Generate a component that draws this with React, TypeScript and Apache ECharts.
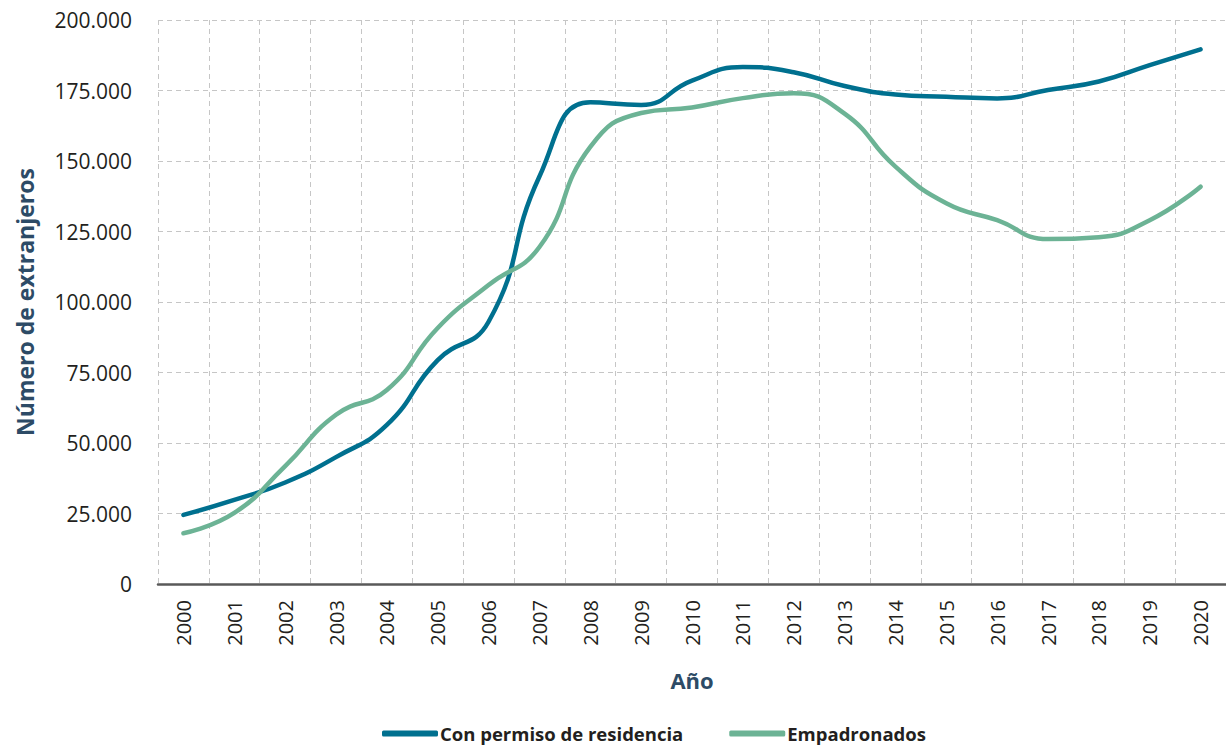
import React, { useEffect, useRef } from "react";
import * as echarts from "echarts";

const years = ["2000","2001","2002","2003","2004","2005","2006","2007","2008","2009","2010","2011","2012","2013","2014","2015","2016","2017","2018","2019","2020"];
const conPermiso = [24500, 29800, 36000, 45000, 56400, 79400, 93000, 144500, 170800, 169900, 178500, 183300, 181500, 176600, 173600, 172800, 172200, 175200, 178200, 184000, 189600];
const empadronados = [18000, 25200, 41800, 60000, 68800, 90800, 106000, 119500, 155000, 167000, 169000, 172300, 174000, 166800, 148000, 135000, 129000, 122300, 123000, 129000, 140900];
const seriesNames = ["Con permiso de residencia", "Empadronados"];
const yTicks = { min: 0, max: 200000, interval: 25000 };

const FONT = "Open Sans";
const TITLE_COLOR = "#2d4b66";
const TEXT_COLOR = "#231f20";

function fmt(v: number): string {
  return String(v).replace(/\B(?=(\d{3})+(?!\d))/g, ".");
}

export default function App() {
  const ref = useRef<HTMLDivElement>(null);
  useEffect(() => {
    if (!ref.current) return;
    const chart = echarts.init(ref.current, undefined, { renderer: "svg" });
    chart.setOption({
      animation: false,
      backgroundColor: "#ffffff",
      textStyle: { fontFamily: FONT },
      grid: { left: 158, top: 20, width: 1070, height: 564, containLabel: false },
      legend: {
        bottom: 4,
        left: 377,
        icon: "roundRect",
        itemWidth: 56,
        itemHeight: 6,
        itemGap: 46,
        textStyle: { fontFamily: FONT, fontSize: 18.5, fontWeight: "bold", color: TEXT_COLOR, padding: [0, 0, 0, -3] },
        data: seriesNames,
      },
      xAxis: {
        type: "category",
        data: years,
        boundaryGap: true,
        name: "Año",
        nameLocation: "middle",
        nameGap: 85,
        nameTextStyle: { fontFamily: FONT, fontSize: 22, fontWeight: "bold", color: TITLE_COLOR },
        axisLine: { show: true, lineStyle: { color: "#595959", width: 2.5 } },
        axisTick: { show: false },
        axisLabel: { rotate: 90, margin: 16, fontFamily: FONT, fontSize: 20, color: TEXT_COLOR, interval: 0 },
        splitLine: { show: true, interval: 0, lineStyle: { color: "#c6c6c6", width: 1, type: [5, 4] } },
      },
      yAxis: {
        type: "value",
        min: yTicks.min,
        max: yTicks.max,
        interval: yTicks.interval,
        name: "Número de extranjeros",
        nameLocation: "middle",
        nameGap: 122,
        nameTextStyle: { fontFamily: FONT, fontSize: 23, fontWeight: "bold", color: TITLE_COLOR },
        axisLine: { show: false },
        axisTick: { show: false },
        axisLabel: { margin: 26, fontFamily: FONT, fontSize: 21, color: TEXT_COLOR, formatter: (v: number) => fmt(v) },
        splitLine: { show: true, lineStyle: { color: "#c6c6c6", width: 1, type: [5, 4] } },
      },
      series: [
        {
          name: seriesNames[0],
          type: "line",
          data: conPermiso,
          smooth: 0.5,
          symbol: "none",
          lineStyle: { color: "#00708f", width: 4.5, cap: "round" },
          itemStyle: { color: "#00708f" },
        },
        {
          name: seriesNames[1],
          type: "line",
          data: empadronados,
          smooth: 0.5,
          symbol: "none",
          lineStyle: { color: "#6cb395", width: 4.5, cap: "round" },
          itemStyle: { color: "#6cb395" },
        },
      ],
    });
    return () => chart.dispose();
  }, []);
  return <div ref={ref} style={{ position: "fixed", left: 0, top: 0, width: 1226, height: 752 }} />;
}
